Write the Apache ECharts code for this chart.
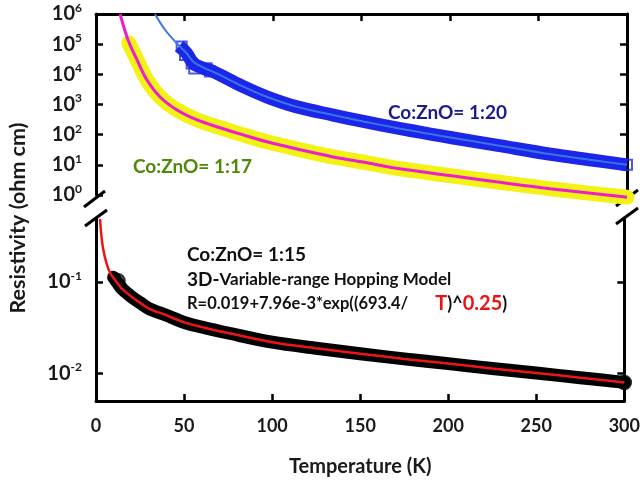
<!DOCTYPE html>
<html>
<head>
<meta charset="utf-8">
<script src="https://cdn.jsdelivr.net/npm/echarts@6/dist/echarts.min.js"></script>
<style>html,body{margin:0;padding:0;background:#fff;}#c{width:643px;height:480px;}</style>
</head>
<body>
<div id="c"></div>
<script>
// ---- data ----
const xTicks = [0, 50, 100, 150, 200, 250, 300];
const upperDecades = [1, 10, 100, 1000, 10000, 100000, 1000000];
const lowerDecades = [0.01, 0.1];

// Co:ZnO = 1:20 (blue) measured band
const blueT   = [47, 51.2, 55, 60.5, 66.3, 73.8, 83.2, 96.4, 113, 134, 151, 172, 189, 201, 227, 257, 280, 300];
const blueR   = [8.7e4, 5.0e4, 2.3e4, 1.6e4, 1.23e4, 7.4e3, 3.9e3, 1.8e3, 850, 447, 275, 158, 105, 79, 44, 22.4, 14.5, 10];
// blue open squares (sparse points at the start of the band)
const blueSqT = [48.4, 50.3, 54, 55.5, 62.5, 64.4, 300];
const blueSqR = [8.3e4, 4.4e4, 2.3e4, 1.55e4, 1.6e4, 1.23e4, 10];
// blue fit line
const blueFitT = [33.3, 39, 45.6, 51.2, 55, 60.5, 66.3, 73.8, 83.2, 96.4, 113, 134, 151, 172, 189, 201, 227, 257, 280, 300];
const blueFitR = [1e6, 3.0e5, 1.07e5, 5.0e4, 2.6e4, 1.7e4, 1.2e4, 7.4e3, 3.9e3, 1.8e3, 850, 447, 275, 158, 105, 79, 44, 22.4, 14.5, 10];

// Co:ZnO = 1:17 (yellow) measured band and magenta fit
const yelT = [18.5, 23.2, 28.8, 36.2, 45.8, 57.1, 70.1, 83.1, 96.6, 115.3, 133.9, 153.1, 171.8, 200, 226, 256.5, 297.7, 300];
const yelR = [1.1e5, 3.0e4, 6.5e3, 1.78e3, 660, 309, 170, 98, 58, 31.6, 18.3, 11.7, 7.4, 4.4, 2.75, 1.62, 0.87, 0.85];
const magT = [13.6, 18.1, 23.2, 28.8, 36.2, 45.8, 57.1, 70.1, 83.1, 96.6, 115.3, 133.9, 153.1, 171.8, 200, 226, 256.5, 297.7, 300];
const magR = [1e6, 1.38e5, 3.0e4, 6.5e3, 1.78e3, 660, 309, 170, 98, 58, 31.6, 18.3, 11.7, 7.4, 4.4, 2.75, 1.62, 0.87, 0.85];

// Co:ZnO = 1:15 (black) measured band and red VRH fit
const blkT = [10, 12.5, 15, 20, 25, 30, 40, 50, 60, 75, 100, 125, 150, 175, 200, 225, 250, 275, 300];
const blkR = [0.112, 0.096, 0.083, 0.069, 0.059, 0.051, 0.043, 0.036, 0.032, 0.0275, 0.0218, 0.0187, 0.0163, 0.0143, 0.0127, 0.0112, 0.0100, 0.0089, 0.0079];
const redT = [2.3, 3, 4, 6, 8, 10, 12.5, 15, 20, 25, 30, 40, 50, 60, 75, 100, 125, 150, 175, 200, 225, 250, 275, 300];
const redR = [0.49, 0.33, 0.234, 0.158, 0.126, 0.11, 0.095, 0.083, 0.069, 0.059, 0.051, 0.043, 0.036, 0.032, 0.0275, 0.0218, 0.0187, 0.0163, 0.0143, 0.0127, 0.0112, 0.0100, 0.0089, 0.0079];
const circT = [12.5, 300];
const circR = [0.103, 0.0079];

const zip = (a, b) => a.map((v, i) => [v, b[i]]);
const FONT = 'Lato, "Open Sans", sans-serif';

function decadeLabel(v) {
  const e = Math.log10(v);
  const r = Math.round(e);
  if (Math.abs(e - r) > 1e-6) return '';
  return '{b|10}{s|' + r + '}';
}
const richLab = {
  b: { fontSize: 20, fontWeight: 'bold', fontFamily: FONT, color: '#1a1a1a', lineHeight: 24 },
  s: { fontSize: 12, fontWeight: 'bold', fontFamily: FONT, color: '#1a1a1a', verticalAlign: 'top', lineHeight: 13 }
};
const axisLineStyle = { color: '#000', width: 3 };
const tickStyle = { color: '#000', width: 2.5 };
const lineBase = { type: 'line', smooth: 0.35, showSymbol: false, clip: false };

const chart = echarts.init(document.getElementById('c'), null, { renderer: 'canvas' });
const option = {
  animation: false,
  backgroundColor: '#fff',
  grid: [
    { left: 96, right: 16, top: 14, height: 181 },
    { left: 96, right: 16, top: 218, height: 183 }
  ],
  xAxis: [
    { gridIndex: 0, type: 'value', min: 0, max: 300, interval: 50, position: 'top',
      axisLine: { lineStyle: axisLineStyle }, axisTick: { inside: true, length: 7, lineStyle: tickStyle },
      axisLabel: { show: false }, splitLine: { show: false } },
    { gridIndex: 1, type: 'value', min: 0, max: 300, interval: 50, position: 'bottom',
      axisLine: { lineStyle: axisLineStyle }, axisTick: { inside: true, length: 7, lineStyle: tickStyle },
      axisLabel: { margin: 16, fontSize: 18, fontWeight: 'bold', fontFamily: FONT, color: '#1a1a1a',
        customValues: xTicks },
      splitLine: { show: false },
      name: 'Temperature (K)', nameLocation: 'middle', nameGap: 56,
      nameTextStyle: { fontSize: 20, fontWeight: 'bold', fontFamily: FONT, color: '#1a1a1a' } }
  ],
  yAxis: [
    { gridIndex: 0, type: 'log', min: 1, max: 1e6, position: 'left',
      axisLine: { lineStyle: axisLineStyle }, axisTick: { inside: true, length: 7, lineStyle: tickStyle, customValues: upperDecades },
      axisLabel: { margin: 14, formatter: decadeLabel, rich: richLab, customValues: upperDecades }, splitLine: { show: false } },
    { gridIndex: 0, type: 'log', min: 1, max: 1e6, position: 'right',
      axisLine: { lineStyle: axisLineStyle }, axisTick: { inside: true, length: 7, lineStyle: tickStyle, customValues: upperDecades },
      axisLabel: { show: false }, splitLine: { show: false } },
    { gridIndex: 1, type: 'log', min: 0.00494, max: 0.501, position: 'left',
      axisLine: { lineStyle: axisLineStyle }, axisTick: { inside: true, length: 7, lineStyle: tickStyle, customValues: lowerDecades },
      axisLabel: { margin: 14, formatter: decadeLabel, rich: richLab, customValues: lowerDecades }, splitLine: { show: false } },
    { gridIndex: 1, type: 'log', min: 0.00494, max: 0.501, position: 'right',
      axisLine: { lineStyle: axisLineStyle }, axisTick: { inside: true, length: 7, lineStyle: tickStyle, customValues: lowerDecades },
      axisLabel: { show: false }, splitLine: { show: false } }
  ],
  series: [
    Object.assign({}, lineBase, { xAxisIndex: 0, yAxisIndex: 0, data: zip(yelT, yelR),
      lineStyle: { color: '#f2f214', width: 15, cap: 'round', join: 'round' } }),
    Object.assign({}, lineBase, { xAxisIndex: 0, yAxisIndex: 0, data: zip(magT, magR),
      lineStyle: { color: '#ec1ed0', width: 3 } }),
    Object.assign({}, lineBase, { xAxisIndex: 0, yAxisIndex: 0, data: zip(blueT, blueR),
      lineStyle: { color: '#1c26e8', width: 13, cap: 'butt', join: 'round' } }),
    { type: 'scatter', xAxisIndex: 0, yAxisIndex: 0, data: zip(blueSqT, blueSqR), symbol: 'rect', symbolSize: 10,
      itemStyle: { color: 'rgba(255,255,255,0)', borderColor: '#2030e0', borderWidth: 2 } },
    Object.assign({}, lineBase, { xAxisIndex: 0, yAxisIndex: 0, data: zip(blueFitT, blueFitR),
      lineStyle: { color: '#3a74e6', width: 2 } }),
    Object.assign({}, lineBase, { xAxisIndex: 1, yAxisIndex: 2, data: zip(blkT, blkR),
      lineStyle: { color: '#000', width: 13, cap: 'round', join: 'round' } }),
    Object.assign({}, lineBase, { xAxisIndex: 1, yAxisIndex: 2, data: zip(redT, redR),
      lineStyle: { color: '#ee1515', width: 2.5 } }),
    { type: 'scatter', xAxisIndex: 1, yAxisIndex: 2, data: zip(circT, circR), symbol: 'circle', symbolSize: 13,
      itemStyle: { color: 'rgba(255,255,255,0)', borderColor: '#000', borderWidth: 2.5 } }
  ],
  graphic: [
    // axis-break marks
    { type: 'line', shape: { x1: 84, y1: 207, x2: 105, y2: 191 }, style: { stroke: '#000', lineWidth: 3 } },
    { type: 'line', shape: { x1: 85, y1: 226, x2: 107, y2: 210 }, style: { stroke: '#000', lineWidth: 3 } },
    { type: 'line', shape: { x1: 616, y1: 206, x2: 638, y2: 190 }, style: { stroke: '#000', lineWidth: 3 } },
    { type: 'line', shape: { x1: 616, y1: 224, x2: 638, y2: 208 }, style: { stroke: '#000', lineWidth: 3 } },
    // y-axis title
    { type: 'text', x: 18, y: 218, rotation: Math.PI / 2,
      style: { text: 'Resistivity (ohm cm)', font: 'bold 21.5px ' + FONT, fill: '#1a1a1a', align: 'center', verticalAlign: 'middle', textAlign: 'center', textVerticalAlign: 'middle' } },
    // annotations
    { type: 'text', x: 388, y: 113,
      style: { text: 'Co:ZnO= 1:20', font: 'bold 19px ' + FONT, fill: '#1b1b90', align: 'left', verticalAlign: 'middle', textAlign: 'left', textVerticalAlign: 'middle' } },
    { type: 'text', x: 133, y: 167,
      style: { text: 'Co:ZnO= 1:17', font: 'bold 19px ' + FONT, fill: '#4e8a06', align: 'left', verticalAlign: 'middle', textAlign: 'left', textVerticalAlign: 'middle' } },
    { type: 'text', x: 187, y: 255,
      style: { text: 'Co:ZnO= 1:15', font: 'bold 19px ' + FONT, fill: '#111', align: 'left', verticalAlign: 'middle', textAlign: 'left', textVerticalAlign: 'middle' } },
    { type: 'text', x: 187, y: 280,
      style: { text: '{a|3D-}{b|Variable-range Hopping Model}', align: 'left', verticalAlign: 'middle', textAlign: 'left', textVerticalAlign: 'middle',
        rich: { a: { font: 'bold 19px ' + FONT, fill: '#111', color: '#111' }, b: { font: 'bold 17px ' + FONT, fill: '#111', color: '#111' } } } },
    { type: 'text', x: 187, y: 304,
      style: { text: '{k|R=0.019+7.96e-3*exp((693.4/}{g| }{r|T}{k2|)^}{r|0.25}{k2|)}', align: 'left', verticalAlign: 'middle', textAlign: 'left', textVerticalAlign: 'middle',
        rich: {
          k: { font: 'bold 16.5px ' + FONT, fill: '#111', color: '#111' },
          g: { font: 'bold 15px ' + FONT, width: 27 },
          r: { font: 'bold 20px ' + FONT, fill: '#e81414', color: '#e81414' },
          k2: { font: 'bold 18px ' + FONT, fill: '#111', color: '#111' }
        } } }
  ]
};
chart.setOption(option);
</script>
</body>
</html>
